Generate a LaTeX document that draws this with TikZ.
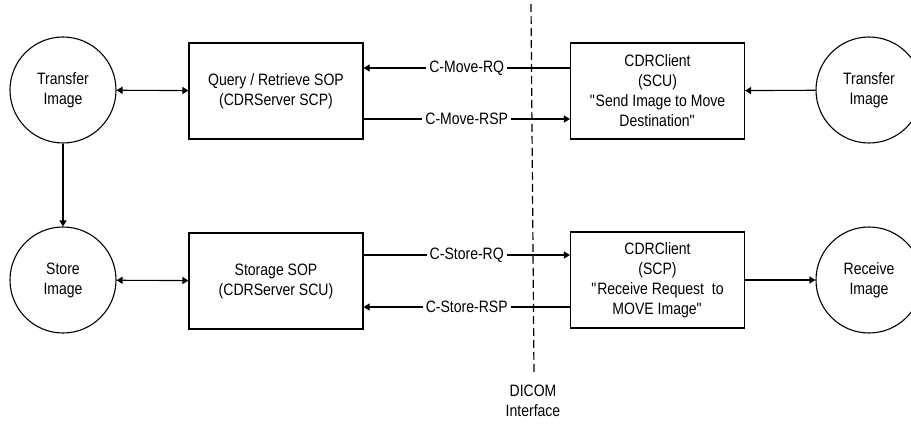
\documentclass[tikz,border=0pt]{standalone}
\usepackage{fontspec}
\setmainfont{Liberation Sans}[FakeStretch=0.85]
\usetikzlibrary{arrows.meta}
\begin{document}
\begin{tikzpicture}[x=1pt,y=-1pt,
  every node/.style={font=\fontsize{16.5}{20}\selectfont},
  proc/.style={draw,line width=1.1pt,circle,minimum size=106pt,inner sep=0pt,align=center},
  sop/.style={draw,line width=1.1pt,rectangle,minimum width=174pt,minimum height=96pt,inner sep=0pt,align=center},
  link/.style={line width=1.1pt,-{Triangle[length=6pt,width=7pt]}},
  dlink/.style={line width=1.1pt,{Triangle[length=6pt,width=7pt]}-{Triangle[length=6pt,width=7pt]}},
  msg/.style={fill=white,inner xsep=3pt,inner ysep=1pt}]
\useasboundingbox (0,0) rectangle (911,433);
\clip (0,0) rectangle (911,433);

% DICOM interface boundary
\coordinate (dtop) at (531,4);
\coordinate (dbot) at (534,374);
\draw[line width=1.2pt,dash pattern=on 8pt off 4pt] (dtop) -- (dbot);
\node[align=center] (dicom) at (533,401) {DICOM\\Interface};

% server side
\node[proc] (tx)  at (63,90)  {Transfer\\Image};
\node[proc] (st)  at (63,280) {Store\\Image};
\node[sop]  (qr)  at (276,91) {Query / Retrieve SOP\\(CDRServer SCP)};
\node[sop]  (sto) at (276,281) {Storage SOP\\(CDRServer SCU)};

% client side
\node[sop]  (cu)  at (657.5,91)  {CDRClient\\(SCU)\\\textquotedbl Send Image to Move\\Destination\textquotedbl};
\node[sop]  (cp)  at (657.5,280) {CDRClient\\(SCP)\\\textquotedbl Receive Request~ to\\MOVE Image\textquotedbl};
\node[proc] (tx2) at (869,90)  {Transfer\\Image};
\node[proc] (rx)  at (869,280) {Receive\\Image};

% local links
\draw[dlink] (tx) -- (qr);
\draw[dlink] (st) -- (sto);
\draw[link] (tx) -- (st);
\draw[link] (tx2) -- (cu);
\draw[link] (cp) -- (rx);

% DIMSE messages
\draw[link] ([yshift=23pt]cu.west) -- node[msg] {C-Move-RQ} ([yshift=23pt]qr.east);
\draw[link] ([yshift=-28pt]qr.east) -- node[msg] {C-Move-RSP} ([yshift=-28pt]cu.west);
\draw[link] ([yshift=26pt]sto.east) -- node[msg] {C-Store-RQ} ([yshift=25pt]cp.west);
\draw[link] ([yshift=-27pt]cp.west) -- node[msg] {C-Store-RSP} ([yshift=-26pt]sto.east);
\end{tikzpicture}
\end{document}
